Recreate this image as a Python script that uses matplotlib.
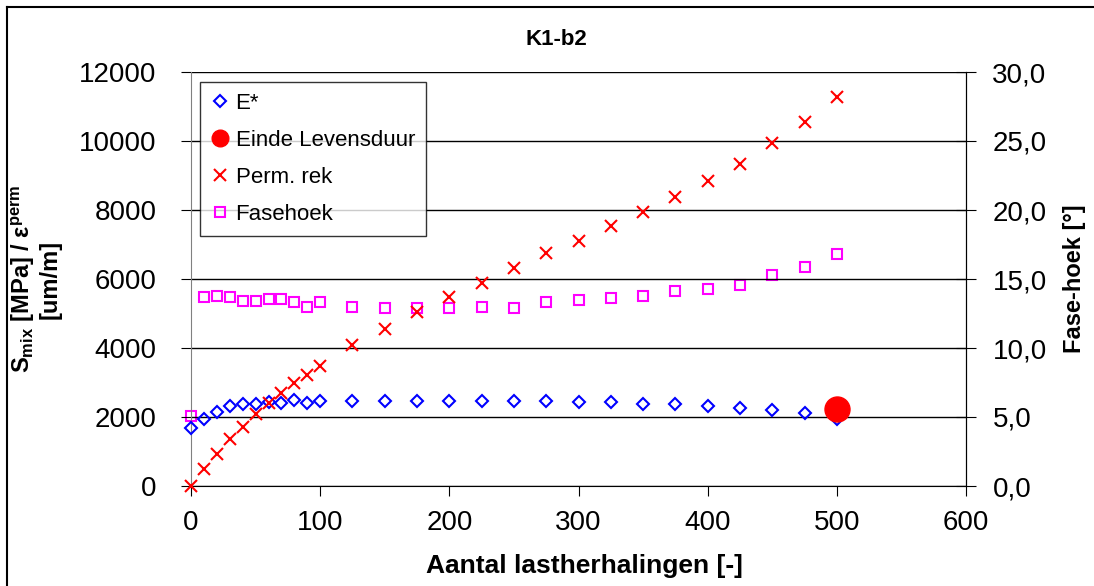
import matplotlib.pyplot as plt
from matplotlib.lines import Line2D
from matplotlib.ticker import FuncFormatter

plt.rcParams['font.family'] = ['Liberation Sans', 'DejaVu Sans']
plt.rcParams['mathtext.fontset'] = 'custom'
plt.rcParams['mathtext.rm'] = 'Liberation Sans:bold'
plt.rcParams['mathtext.bf'] = 'Liberation Sans:bold'
plt.rcParams['mathtext.it'] = 'Liberation Sans:bold'

# data
cycles = [0, 10, 20, 30, 40, 50, 60, 70, 80, 90, 100,
          125, 150, 175, 200, 225, 250, 275, 300, 325, 350, 375, 400, 425, 450, 475, 500]
e_star = [1670, 1930, 2140, 2330, 2370, 2380, 2430, 2420, 2480, 2420, 2470,
          2470, 2470, 2470, 2470, 2470, 2470, 2470, 2430, 2430, 2380, 2380, 2320, 2250, 2200, 2110, 1950]
perm_rek = [0, 490, 930, 1350, 1720, 2090, 2420, 2690, 3000, 3220, 3480,
            4090, 4550, 5030, 5470, 5890, 6310, 6740, 7110, 7540, 7950, 8390, 8850, 9330, 9940, 10560, 11270]
fasehoek = [5.1, 13.7, 13.8, 13.7, 13.4, 13.4, 13.55, 13.55, 13.3, 13.0, 13.3,
            13.0, 12.9, 12.9, 12.9, 13.0, 12.9, 13.3, 13.45, 13.6, 13.8, 14.1, 14.25, 14.6, 15.3, 15.85, 16.8]
end_x = [500]
end_y = [2230]

fig = plt.figure(figsize=(10.94, 5.86), dpi=100)
ax = fig.add_axes([191 / 1094, 1 - 486 / 586, 775 / 1094, 414 / 586])
ax2 = ax.twinx()

# left axis series
ax.plot(cycles, e_star, linestyle='none', marker='D', markersize=6.5, markerfacecolor='none',
        markeredgecolor='#0000ff', markeredgewidth=1.5, clip_on=False, zorder=4)
ax.plot(cycles, perm_rek, linestyle='none', marker='x', markersize=9, color='#ff0000',
        markeredgewidth=1.5, clip_on=False, zorder=5)
ax.plot(end_x, end_y, linestyle='none', marker='o', markersize=18, color='#ff0000',
        clip_on=False, zorder=6)
ax.set_zorder(ax2.get_zorder() + 1)
ax.patch.set_visible(False)

# right axis series
ax2.plot(cycles, fasehoek, linestyle='none', marker='s', markersize=7, markerfacecolor='none',
         markeredgecolor='#ff00ff', markeredgewidth=1.5, clip_on=False)

ax.set_xlim(0, 600)
ax.set_ylim(0, 12000)
ax2.set_ylim(0, 30)
ax.set_xticks(range(0, 601, 100))
ax.set_yticks(range(0, 12001, 2000))
ax2.set_yticks(range(0, 31, 5))
ax2.yaxis.set_major_formatter(FuncFormatter(lambda v, p: f'{v:.1f}'.replace('.', ',')))

ax.grid(axis='y', color='black', linewidth=1)
ax.set_axisbelow(True)

for a in (ax, ax2):
    a.spines['top'].set_visible(False)
ax.spines['left'].set_color('#808080')
ax.spines['bottom'].set_color('black')
ax2.spines['right'].set_color('black')
ax2.spines['left'].set_visible(False)
ax2.spines['bottom'].set_visible(False)

ax.tick_params(axis='y', direction='out', length=7, pad=18, labelsize=20)
ax.tick_params(axis='x', direction='out', length=7, pad=10, labelsize=20)
ax2.tick_params(axis='y', direction='inout', length=14, pad=12, labelsize=20)

ax.set_xlabel('Aantal lastherhalingen [-]', fontsize=19, fontweight='bold', labelpad=13)
ax.xaxis.label.set_x(0.508)
ax.set_ylabel(r'S$_{\rm mix}$ [MPa] / ε$^{\rm perm}$' + '\n[um/m]', fontsize=17,
              fontweight='bold', linespacing=1.1, labelpad=12)
ax2.set_ylabel('Fase-hoek [°]', fontsize=17, fontweight='bold', labelpad=12)

fig.text(0.509, 0.932, 'K1-b2', ha='center', va='center', fontsize=16, fontweight='bold')

handles = [
    Line2D([], [], linestyle='none', marker='D', markersize=6.5, markerfacecolor='none',
           markeredgecolor='#0000ff', markeredgewidth=1.5),
    Line2D([], [], linestyle='none', marker='o', markersize=12, color='#ff0000'),
    Line2D([], [], linestyle='none', marker='x', markersize=9, color='#ff0000', markeredgewidth=1.5),
    Line2D([], [], linestyle='none', marker='s', markersize=7, markerfacecolor='none',
           markeredgecolor='#ff00ff', markeredgewidth=1.5),
]
labels = ['E*', 'Einde Levensduur', 'Perm. rek', 'Fasehoek']
leg = ax.legend(handles, labels, loc='upper left', bbox_to_anchor=(0.0116, 0.976),
                borderaxespad=0, fontsize=16, frameon=True, fancybox=False,
                handlelength=0.8, handletextpad=0.3, labelspacing=0.72, borderpad=0.5)
leg.get_frame().set_edgecolor('black')
leg.get_frame().set_linewidth(1)

# outer chart border
fig.add_artist(Line2D([7 / 1094, 7 / 1094], [0, 1 - 7 / 586], color='black', linewidth=1.5))
fig.add_artist(Line2D([7 / 1094, 1], [1 - 7 / 586, 1 - 7 / 586], color='black', linewidth=1.5))

fig.savefig('out.png', dpi=100)
